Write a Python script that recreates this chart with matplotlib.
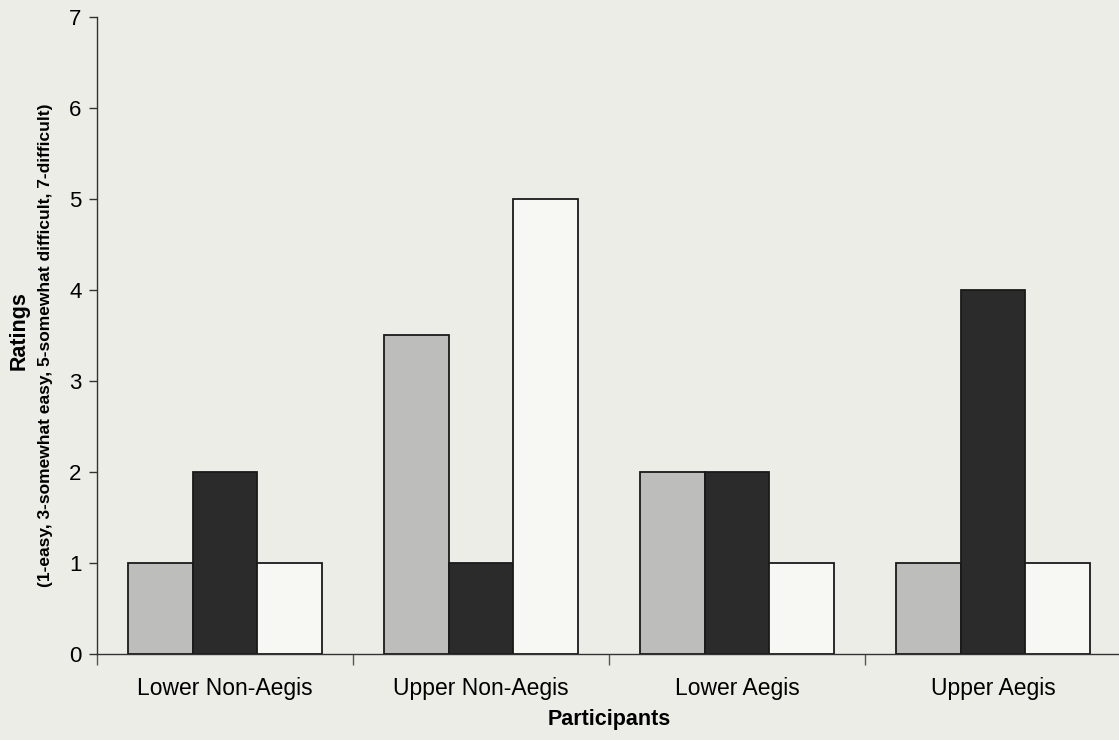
import numpy as np
import matplotlib
matplotlib.use('Agg')
import matplotlib.pyplot as plt

plt.rcParams['font.family'] = ['Liberation Sans', 'DejaVu Sans']

# ── data ─────────────────────────────────────────────────────────────────────
groups = ['Lower Non-Aegis', 'Upper Non-Aegis', 'Lower Aegis', 'Upper Aegis']
series_light = [1, 3.5, 2, 1]
series_dark = [2, 1, 2, 4]
series_white = [1, 5, 1, 1]
y_ticks = [0, 1, 2, 3, 4, 5, 6, 7]

# ── plot ─────────────────────────────────────────────────────────────────────
bg = '#ededE8'
fig = plt.figure(figsize=(11.19, 7.40), dpi=100, facecolor=bg)
ax = fig.add_axes([0.0867, 0.1165, 0.915, 0.8605])
ax.set_facecolor(bg)

x = np.arange(len(groups))
w = 0.252
ax.bar(x - w, series_light, w, color='#bdbdbb', edgecolor='#1a1a1a', linewidth=1.3)
ax.bar(x, series_dark, w, color='#2b2b2b', edgecolor='#1a1a1a', linewidth=1.3)
ax.bar(x + w, series_white, w, color='#f7f7f4', edgecolor='#1a1a1a', linewidth=1.3)

ax.set_xlim(-0.5, 3.5)
ax.set_ylim(0, 7)
ax.set_yticks(y_ticks)
ax.tick_params(axis='y', labelsize=16, length=6, width=1, color='#333333', pad=5)

# group boundaries as ticks, labels at centres
ax.set_xticks(np.arange(len(groups) + 1) - 0.5)
ax.set_xticklabels([])
ax.set_xticks(x, minor=True)
ax.set_xticklabels(groups, minor=True, fontsize=16.5)
ax.tick_params(axis='x', which='major', length=8, width=1, color='#555555')
ax.tick_params(axis='x', which='minor', length=0, pad=17)

for side in ['top', 'right']:
    ax.spines[side].set_visible(False)
for side in ['left', 'bottom']:
    ax.spines[side].set_color('#333333')
    ax.spines[side].set_linewidth(1)

ax.set_xlabel('Participants', fontsize=15.5, fontweight='bold', labelpad=6)

fig.text(0.017, 0.553, 'Ratings', rotation=90, fontsize=15.5, fontweight='bold',
         ha='center', va='center')
fig.text(0.041, 0.534, '(1-easy, 3-somewhat easy, 5-somewhat difficult, 7-difficult)',
         rotation=90, fontsize=12.5, fontweight='bold', ha='center', va='center')

plt.savefig('out.png', dpi=100, facecolor=bg)
plt.close()
